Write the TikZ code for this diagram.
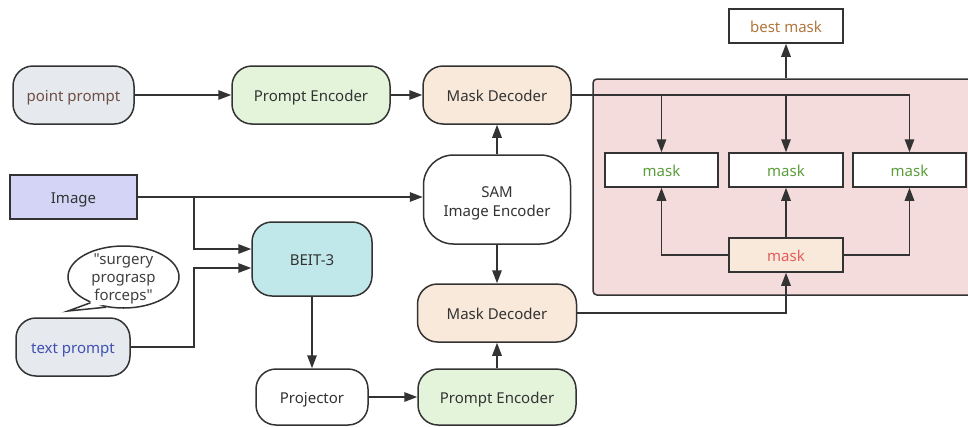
\documentclass[tikz,border=0pt]{standalone}
\usepackage{fontspec}
\setmainfont{Noto Sans}[Ligatures=TeXOff]
\usetikzlibrary{arrows.meta,calc,shapes.geometric}
\definecolor{edge}{HTML}{333333}
\definecolor{txt}{HTML}{333333}
\definecolor{grayfill}{HTML}{E6E9ED}
\definecolor{greenfill}{HTML}{E4F4DA}
\definecolor{peachfill}{HTML}{F8E9DA}
\definecolor{imgfill}{HTML}{D4D5F6}
\definecolor{beitfill}{HTML}{C0E7EA}
\definecolor{panelfill}{HTML}{F4DCDC}
\definecolor{ppcol}{HTML}{6E4F47}
\definecolor{tpcol}{HTML}{3F51B5}
\definecolor{bestcol}{HTML}{B0773F}
\definecolor{maskgreen}{HTML}{5B9D3B}
\definecolor{maskred}{HTML}{E35D5D}
\begin{document}
\begin{tikzpicture}[x=1pt,y=1pt,
  font=\fontsize{15}{19}\selectfont,
  base/.style={draw=edge, line width=1.5pt, text=txt, inner sep=0pt, align=center},
  single/.style={text height=13pt, text depth=0pt},
  pill/.style={base, single, rounded corners=20pt},
  box/.style={base, single, rectangle},
  txtonly/.style={inner sep=0pt, align=center, text=txt},
  arr/.style={draw=edge, line width=1.5pt, -{Triangle[length=13pt,width=9.5pt]}},
  ln/.style={draw=edge, line width=1.5pt}]
\useasboundingbox (0,0) rectangle (968,-426);

% panel
\node[base, fill=panelfill, rounded corners=4pt, minimum width=397pt, minimum height=216pt] (panel) at (791.5,-187) {};

% left column
\node[pill, fill=grayfill, text=ppcol, minimum width=121pt, minimum height=58pt] (pp) at (73.5,-95) {point prompt};
\node[box, fill=imgfill, minimum width=127pt, minimum height=44pt] (img) at (73.5,-197) {Image};
\node[base, ellipse, fill=white, minimum width=111pt, minimum height=62pt] (bubble) at (123.5,-277) {};
\node[txtonly, text=black!75, font=\fontsize{15}{18}\selectfont] (bubbletext) at ($(bubble.center)+(0,-1.5)$) {"surgery\\prograsp\\forceps"};
\node[pill, fill=grayfill, text=tpcol, minimum width=114pt, minimum height=58pt] (tp) at (73,-347) {text prompt};

% middle column
\node[pill, fill=greenfill, minimum width=158pt, minimum height=58pt] (pe1) at (311,-95) {Prompt Encoder};
\node[pill, fill=beitfill, minimum width=120pt, minimum height=74pt] (beit) at (312,-259) {BEIT-3};
\node[pill, fill=white, minimum width=112pt, minimum height=56pt] (proj) at (312,-397) {Projector};

% SAM column
\node[pill, fill=peachfill, minimum width=148pt, minimum height=58pt] (md1) at (497,-95) {Mask Decoder};
\node[base, rounded corners=30pt, fill=white, minimum width=147pt, minimum height=89pt] (sam) at (497,-199.5) {};
\node[txtonly] (samtext) at ($(sam.center)+(0,-3.5)$) {SAM\\Image Encoder};
\node[pill, fill=peachfill, minimum width=159pt, minimum height=58pt] (md2) at (497,-313) {Mask Decoder};
\node[pill, fill=greenfill, minimum width=158pt, minimum height=56pt] (pe2) at (497,-397) {Prompt Encoder};

% masks
\node[box, fill=white, text=bestcol, minimum width=114pt, minimum height=34pt] (best) at (786,-26) {best mask};
\node[box, fill=white, text=maskgreen, minimum width=113pt, minimum height=34pt] (m1) at (661.5,-170) {mask};
\node[box, fill=white, text=maskgreen, minimum width=114pt, minimum height=34pt] (m2) at (786,-170) {mask};
\node[box, fill=white, text=maskgreen, minimum width=113pt, minimum height=34pt] (m3) at (909.5,-170) {mask};
\node[box, fill=peachfill, text=maskred, minimum width=114pt, minimum height=34pt] (rm) at (786,-255) {mask};

% bubble tail
\coordinate (tip) at (68,-311);
\fill[white] ($(bubble.center)!0.9!(bubble.218)$) -- (tip) -- ($(bubble.center)!0.9!(bubble.240)$) -- cycle;
\draw[ln, line join=miter] (bubble.218) -- (tip) -- (bubble.240);

% connectors
\draw[arr] (pp) -- (pe1);
\draw[arr] (pe1) -- (md1);
\draw[arr] (sam) -- (md1);
\draw[arr] (sam) -- (md2);
\draw[arr] (pe2) -- (md2);
\draw[arr] (proj) -- (pe2);
\draw[arr] (beit) -- (proj);
\draw[arr] (img.east) -- (img.east -| sam.west);
\coordinate (j1) at (194,-197);
\draw[arr] (j1) |- ($(beit.west)+(0,10)$);
\coordinate (j2) at (194,-347);
\draw[arr] (tp.east) -- (j2) |- ($(beit.west)+(0,-9)$);

\draw[arr] (md1.east) -| (m3.north);
\draw[arr] (m1.north |- md1.east) -- (m1.north);
\draw[arr] (m2.north |- md1.east) -- (m2.north);
\draw[arr] (rm.west) -| (m1.south);
\draw[arr] (rm.north) -- (m2.south);
\draw[arr] (rm.east) -| (m3.south);
\draw[arr] (md2.east) -| (rm.south);
\draw[arr] (best.south |- panel.north) -- (best.south);
\end{tikzpicture}
\end{document}
